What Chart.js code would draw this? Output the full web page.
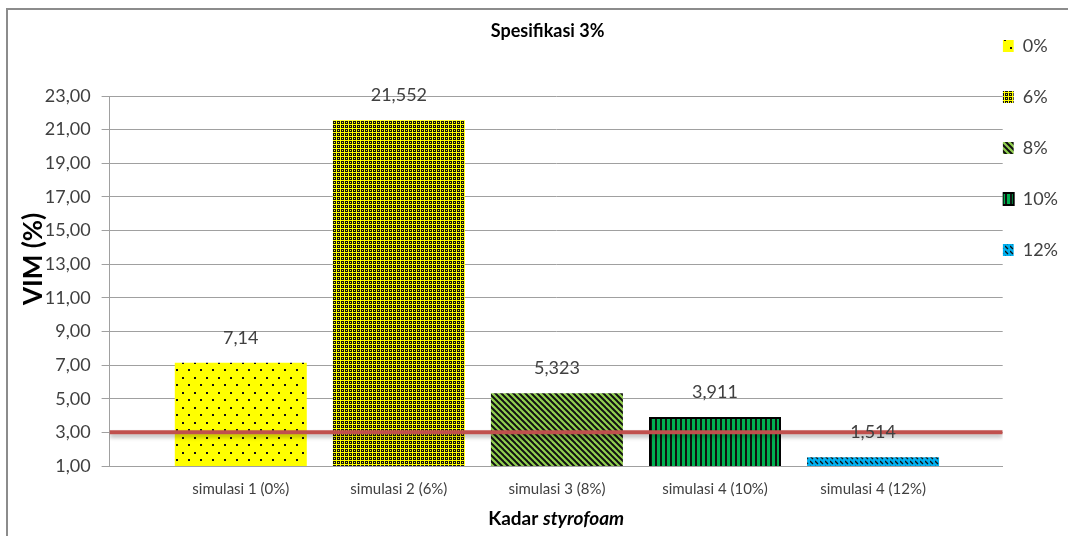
<!DOCTYPE html>
<html>
<head>
<meta charset="utf-8">
<script src="https://cdn.jsdelivr.net/npm/chart.js@4"></script>
<style>
  html, body { margin: 0; padding: 0; background: #fff; overflow: hidden; }
  #frame { position: absolute; left: 6px; top: 8px; width: 1200px; height: 700px;
           border-left: 2px solid #8c8c8c; border-top: 2px solid #8c8c8c; }
  #myChart { position: absolute; left: 0; top: 0; }
</style>
</head>
<body>
<div id="frame"></div>
<canvas id="myChart" width="1068" height="536"></canvas>
<script>
// ==== data
const categories = ['simulasi 1 (0%)', 'simulasi 2 (6%)', 'simulasi 3 (8%)', 'simulasi 4 (10%)', 'simulasi 4 (12%)'];
const seriesLabels = ['0%', '6%', '8%', '10%', '12%'];
const vimValues = [7.14, 21.552, 5.323, 3.911, 1.514];
const valueLabels = ['7,14', '21,552', '5,323', '3,911', '1,514'];
const specLimit = [3, 3];
const yTickValues = [1, 3, 5, 7, 9, 11, 13, 15, 17, 19, 21, 23];
const xTitleParts = ['Kadar ', 'styrofoam'];

Chart.defaults.font.family = 'Lato';
Chart.defaults.color = '#404040';

const canvas = document.getElementById('myChart');
const mainCtx = canvas.getContext('2d');

// ==== fill patterns (excel style)
function makePattern(w, h, draw) {
  const c = document.createElement('canvas');
  c.width = w;
  c.height = h;
  draw(c.getContext('2d'), w, h);
  return mainCtx.createPattern(c, 'repeat');
}

const dotted = makePattern(12, 15, (g) => {
  g.fillStyle = '#ffff00';
  g.fillRect(0, 0, 12, 15);
  g.fillStyle = '#111';
  g.fillRect(2, 2, 2, 2);
  g.fillRect(8, 9, 2, 2);
});

const mesh = makePattern(4, 4, (g) => {
  g.fillStyle = '#ffff00';
  g.fillRect(0, 0, 4, 4);
  g.fillStyle = '#111';
  g.fillRect(1, 1, 3, 3);
  g.fillStyle = '#ffff00';
  g.fillRect(2, 2, 1, 1);
});

const diagonal = makePattern(6, 6, (g) => {
  g.fillStyle = '#92d050';
  g.fillRect(0, 0, 6, 6);
  g.strokeStyle = '#111';
  g.lineWidth = 2;
  [-6, 0, 6].forEach((o) => {
    g.beginPath();
    g.moveTo(o - 1, -1);
    g.lineTo(o + 7, 7);
    g.stroke();
  });
});

const vertical = makePattern(5, 1, (g) => {
  g.fillStyle = '#00b050';
  g.fillRect(0, 0, 5, 1);
  g.fillStyle = '#111';
  g.fillRect(0, 0, 2, 1);
});

const dashes = makePattern(5, 5, (g) => {
  g.fillStyle = '#00b0f0';
  g.fillRect(0, 0, 5, 5);
  g.strokeStyle = '#111';
  g.lineWidth = 1.3;
  g.beginPath();
  g.moveTo(0, 1);
  g.lineTo(3, 4);
  g.stroke();
});

const fills = [dotted, mesh, diagonal, vertical, dashes];
const borderColors = ['#ffff00', '#111', '#92d050', '#000', '#00b0f0'];
const borderWidths = [0, 0, 0, 2, 0];

// one dataset per series so the legend lists them
const barSets = seriesLabels.map((label, i) => ({
  type: 'bar',
  label: label,
  data: [{ x: i + 1, y: vimValues[i] }],
  backgroundColor: fills[i],
  borderColor: borderColors[i],
  borderWidth: borderWidths[i],
  grouped: false,
  categoryPercentage: 1,
  barPercentage: 0.835,
  xAxisID: 'x'
}));

const limitLine = {
  type: 'line',
  label: 'Spesifikasi',
  data: [{ x: 0, y: specLimit[0] }, { x: 1, y: specLimit[1] }],
  xAxisID: 'x2',
  borderColor: '#c0504d',
  borderWidth: 4,
  pointRadius: 0,
  order: -1
};

// value labels, line shadow and x axis title
const extras = {
  id: 'extras',
  beforeDatasetDraw(chart, args) {
    if (args.meta.type === 'line') {
      const ctx = chart.ctx;
      ctx.save();
      ctx.shadowColor = 'rgba(0,0,0,0.3)';
      ctx.shadowBlur = 4;
      ctx.shadowOffsetY = 3;
    }
  },
  afterDatasetDraw(chart, args) {
    if (args.meta.type === 'line') chart.ctx.restore();
  },
  afterDatasetsDraw(chart) {
    const ctx = chart.ctx;
    ctx.save();
    ctx.font = '18px Lato';
    ctx.fillStyle = '#404040';
    ctx.textAlign = 'center';
    ctx.textBaseline = 'middle';
    valueLabels.forEach((txt, i) => {
      const bar = chart.getDatasetMeta(i).data[0];
      ctx.fillText(txt, bar.x, bar.y - 25);
    });

    const area = chart.chartArea;
    const cx = (area.left + area.right) / 2;
    ctx.fillStyle = '#000';
    ctx.textAlign = 'left';
    ctx.font = 'bold 19px Lato';
    const w1 = ctx.measureText(xTitleParts[0]).width;
    ctx.font = 'italic bold 19px Lato';
    const w2 = ctx.measureText(xTitleParts[1]).width;
    const x0 = cx - (w1 + w2) / 2;
    ctx.font = 'bold 19px Lato';
    ctx.fillText(xTitleParts[0], x0, 519);
    ctx.font = 'italic bold 19px Lato';
    ctx.fillText(xTitleParts[1], x0 + w1, 519);
    ctx.restore();
  }
};

// config
const config = {
  type: 'bar',
  data: { datasets: [...barSets, limitLine] },
  options: {
    responsive: false,
    animation: false,
    layout: { padding: { left: 27.25, right: 0, top: 10, bottom: 24 } },
    scales: {
      x: {
        type: 'linear',
        min: 0.17,
        max: 5.82,
        offset: false,
        grid: { display: false, drawTicks: false, offset: false },
        border: { color: '#a0a0a0' },
        afterBuildTicks: (axis) => { axis.ticks = categories.map((c, i) => ({ value: i + 1 })); },
        ticks: {
          padding: 14,
          font: { size: 15 },
          color: '#404040',
          callback: (v) => categories[Math.round(v) - 1] || ''
        }
      },
      x2: { type: 'linear', min: 0, max: 1, offset: false, display: false },
      y: {
        min: 1,
        max: 23,
        afterBuildTicks: (axis) => { axis.ticks = yTickValues.map((v) => ({ value: v })); },
        grid: { color: '#a0a0a0', tickLength: 8 },
        border: { color: '#a0a0a0' },
        ticks: {
          padding: 11,
          font: { size: 18 },
          color: '#404040',
          callback: (v) => v.toFixed(2).replace('.', ',')
        },
        title: {
          display: true,
          text: '       VIM (%)',
          color: '#000',
          font: { size: 26, weight: 'bold', lineHeight: 0.5 },
          padding: { top: 0, bottom: -6.5 }
        }
      }
    },
    plugins: {
      title: {
        display: true,
        text: 'Spesifikasi 3%',
        color: '#000',
        font: { size: 18, weight: 'bold', lineHeight: 1.2 },
        padding: { top: 10, bottom: 54.4 }
      },
      legend: {
        position: 'right',
        align: 'start',
        title: { display: true, text: '', font: { size: 10, lineHeight: 1 }, padding: { top: 17, bottom: 0 } },
        labels: {
          padding: 0,
          boxWidth: 11,
          boxHeight: 12,
          font: { size: 18, lineHeight: 51 / 18 },
          generateLabels: (chart) => chart.data.datasets
            .filter((ds) => ds.type === 'bar')
            .map((ds, i) => ({
              text: [ds.label],
              fillStyle: ds.backgroundColor,
              strokeStyle: ds.borderColor,
              lineWidth: ds.borderWidth,
              hidden: false,
              datasetIndex: i,
              fontColor: '#404040'
            }))
        }
      },
      tooltip: { enabled: false }
    }
  },
  plugins: [extras]
};

const myChart = new Chart(canvas, config);
</script>
</body>
</html>
